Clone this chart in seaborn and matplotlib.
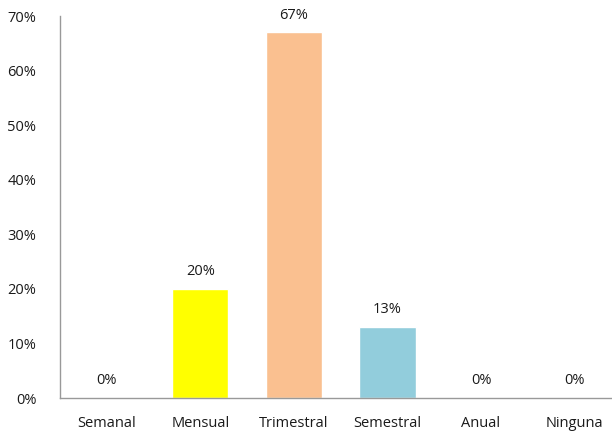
import matplotlib
matplotlib.use("Agg")
import matplotlib.pyplot as plt
import seaborn as sns
import pandas as pd

categories = ["Semanal", "Mensual", "Trimestral", "Semestral", "Anual", "Ninguna"]
values = [0, 20, 67, 13, 0, 0]
colors = ["#4F81BD", "#FFFF00", "#FAC090", "#92CDDC", "#4F81BD", "#4F81BD"]
yticks = [0, 10, 20, 30, 40, 50, 60, 70]

sns.set_theme(style="white")
plt.rcParams["font.family"] = ["Open Sans", "DejaVu Sans"]

df = pd.DataFrame({"frecuencia": categories, "pct": values})

fig = plt.figure(figsize=(6.12, 4.32), dpi=100)
ax = fig.add_axes([60 / 612, 34 / 432, 552 / 612, 382 / 432])

sns.barplot(data=df, x="frecuencia", y="pct", hue="frecuencia",
            palette=colors, legend=False, width=0.6, saturation=1, ax=ax)

fs = 10.5
txt = "#1a1a1a"
for i, v in enumerate(values):
    ax.text(i, v + 1.8, f"{v}%", ha="center", va="bottom", fontsize=fs, color=txt)

ax.set_ylim(0, 70)
ax.set_xlim(-0.5, 5.4)
ax.set_yticks(yticks)
ax.set_yticklabels([f"{t}%" for t in yticks], fontsize=fs, color=txt)
ax.tick_params(axis="y", length=0, pad=17)
ax.tick_params(axis="x", length=0, pad=13, labelsize=fs, labelcolor=txt)
ax.set_xlabel("")
ax.set_ylabel("")
for s in ["top", "right"]:
    ax.spines[s].set_visible(False)
for s in ["left", "bottom"]:
    ax.spines[s].set_color("#999999")
    ax.spines[s].set_linewidth(1)

fig.savefig("out.png", dpi=100)
